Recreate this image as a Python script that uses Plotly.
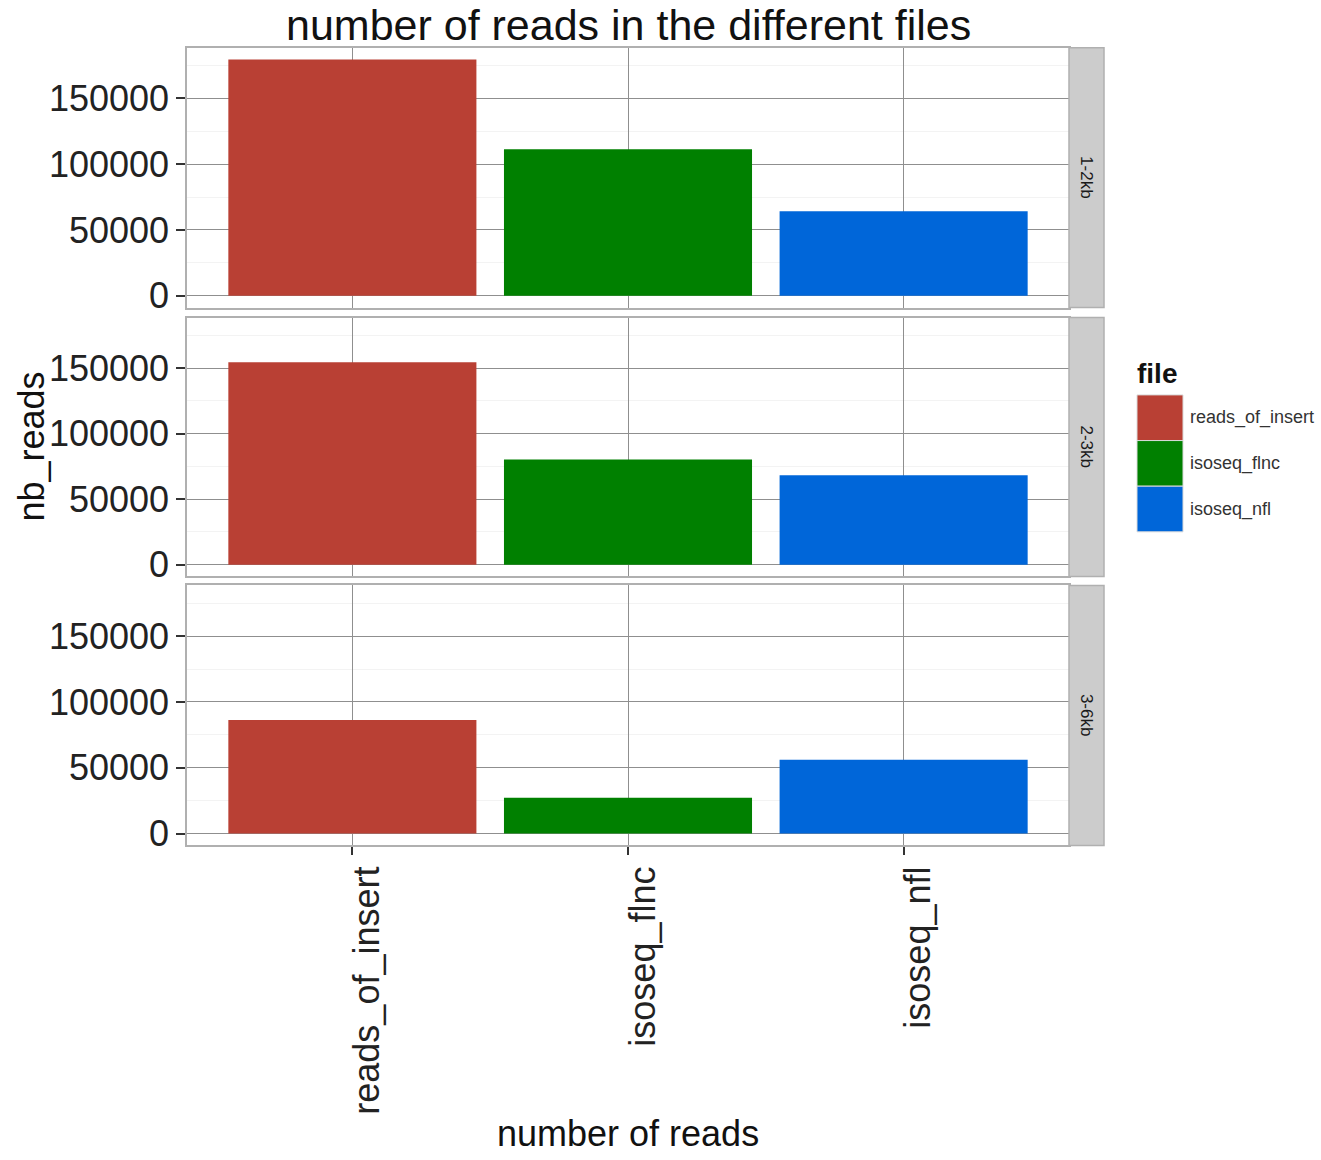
import plotly.graph_objects as go

# Read counts per file type, one list per size facet
files = ["reads_of_insert", "isoseq_flnc", "isoseq_nfl"]
size_bins = ["1-2kb", "2-3kb", "3-6kb"]
reads_1_2kb = [179600, 111300, 64200]
reads_2_3kb = [154500, 80300, 68200]
reads_3_6kb = [86400, 27300, 56100]
file_colors = ["#B94034", "#008000", "#0066D9"]
y_ticks = [0, 50000, 100000, 150000]

facet_values = [reads_1_2kb, reads_2_3kb, reads_3_6kb]

W, H = 1321, 1160
FONT = "Liberation Sans, Arial, sans-serif"


def px_x(v):
    return v / W


def px_y(v):
    return 1 - v / H


panel_x = (187, 1069)
strip_x = (1069, 1104)
row_px = [(48, 310), (320, 581), (590, 852)]

# shared y scale across facets with 5% expansion
ymax = max(max(v) for v in facet_values)
pad = 0.05 * ymax
y_range = [-pad, ymax + pad]

fig = go.Figure()

for i, vals in enumerate(facet_values):
    suffix = "" if i == 0 else str(i + 1)
    for j, f in enumerate(files):
        fig.add_trace(go.Bar(
            x=[f], y=[vals[j]],
            marker=dict(color=file_colors[j], line=dict(width=0)),
            width=0.9,
            name=f,
            showlegend=False,
            xaxis="x" + suffix, yaxis="y" + suffix,
        ))

layout = dict(
    width=W, height=H, autosize=False,
    margin=dict(l=0, r=0, t=0, b=0),
    paper_bgcolor="white", plot_bgcolor="white",
    barmode="overlay",
    font=dict(family=FONT, color="#222222"),
    showlegend=False,
)

grid_major = "#8F8F8F"
border = "#B0B0B0"

for i, (top, bottom) in enumerate(row_px):
    suffix = "" if i == 0 else str(i + 1)
    last = i == len(row_px) - 1
    layout["xaxis" + suffix] = dict(
        domain=[px_x(panel_x[0]), px_x(panel_x[1])],
        anchor="y" + suffix,
        type="category",
        categoryorder="array", categoryarray=files,
        range=[-0.6, 2.6],
        showgrid=True, gridcolor=grid_major, gridwidth=1,
        showline=True, linecolor=border, linewidth=1.5, mirror=True,
        ticks="outside" if last else "", ticklen=8, tickcolor="#333333", tickwidth=1.5,
        showticklabels=last, tickangle=-90,
        ticklabelshift=15, ticklabelstandoff=-3,
        tickfont=dict(family=FONT, size=36, color="#222222"),
        fixedrange=True,
    )
    layout["yaxis" + suffix] = dict(
        domain=[px_y(bottom), px_y(top)],
        anchor="x" + suffix,
        range=y_range,
        tickmode="array", tickvals=y_ticks, ticktext=[str(t) for t in y_ticks],
        showgrid=True, gridcolor=grid_major, gridwidth=1,
        zeroline=False,
        minor=dict(tick0=0, dtick=25000, showgrid=True, gridcolor="#F3F3F3", ticks=""),
        showline=True, linecolor=border, linewidth=1.5, mirror=True,
        ticks="outside", ticklen=9, tickcolor="#333333", tickwidth=1.5,
        tickfont=dict(family=FONT, size=36, color="#222222"),
        fixedrange=True,
    )

shapes = []
annotations = []

# facet strips on the right
for label, (top, bottom) in zip(size_bins, row_px):
    shapes.append(dict(
        type="rect", xref="paper", yref="paper",
        x0=px_x(strip_x[0]), x1=px_x(strip_x[1]), y0=px_y(bottom), y1=px_y(top),
        fillcolor="#CCCCCC", line=dict(color="#B0B0B0", width=1.5), layer="above",
    ))
    annotations.append(dict(
        text=label, xref="paper", yref="paper",
        x=px_x((strip_x[0] + strip_x[1]) / 2), y=px_y((top + bottom) / 2),
        xanchor="center", yanchor="middle", textangle=90, showarrow=False,
        font=dict(family=FONT, size=17, color="#1A1A1A"),
    ))

# legend drawn as keys + labels
annotations.append(dict(
    text="<b>file</b>", xref="paper", yref="paper",
    x=px_x(1135), y=px_y(376), xanchor="left", yanchor="middle", showarrow=False,
    font=dict(family=FONT, size=28, color="#111111"),
))
key_top, key_size = 398, 46
for k, (f, c) in enumerate(zip(files, file_colors)):
    y0 = key_top + k * key_size
    shapes.append(dict(
        type="rect", xref="paper", yref="paper",
        x0=px_x(1137), x1=px_x(1137 + key_size), y0=px_y(y0 + key_size), y1=px_y(y0),
        fillcolor=c, line=dict(color="#DADADA", width=1),
    ))
    annotations.append(dict(
        text=f, xref="paper", yref="paper",
        x=px_x(1188), y=px_y(y0 + key_size / 2), xanchor="left", yanchor="middle",
        showarrow=False, font=dict(family=FONT, size=18, color="#333333"),
    ))

# titles
center_x = px_x((panel_x[0] + panel_x[1]) / 2)
annotations.append(dict(
    text="number of reads in the different files", xref="paper", yref="paper",
    x=center_x, y=px_y(25), xanchor="center", yanchor="middle", showarrow=False,
    font=dict(family=FONT, size=43, color="#111111"),
))
annotations.append(dict(
    text="number of reads", xref="paper", yref="paper",
    x=center_x, y=px_y(1142), xanchor="center", yanchor="middle", showarrow=False,
    font=dict(family=FONT, size=36, color="#111111"),
))
annotations.append(dict(
    text="nb_reads", xref="paper", yref="paper",
    x=px_x(32), y=px_y(450), xanchor="center", yanchor="middle", textangle=-90,
    showarrow=False, font=dict(family=FONT, size=36, color="#111111"),
))

layout["shapes"] = shapes
layout["annotations"] = annotations
fig.update_layout(**layout)

fig.write_html("out.html")
